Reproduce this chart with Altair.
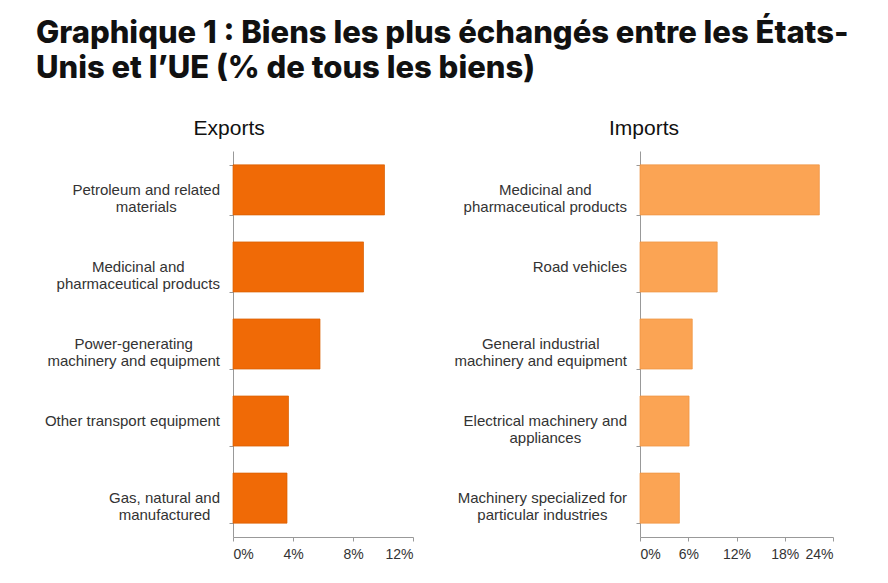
import altair as alt
import pandas as pd

export_labels = [
    "Petroleum and related|materials",
    "Medicinal and|pharmaceutical products",
    "Power-generating|machinery and equipment",
    "Other transport equipment",
    "Gas, natural and|manufactured",
]
export_values = [10.1, 8.7, 5.8, 3.7, 3.6]

import_labels = [
    "Medicinal and|pharmaceutical products",
    "Road vehicles",
    "General industrial|machinery and equipment",
    "Electrical machinery and|appliances",
    "Machinery specialized for|particular industries",
]
import_values = [22.3, 9.6, 6.5, 6.1, 4.9]

FONT = "Liberation Sans"
LABEL_SIZE = 15
LABEL_PAD = 13

# Arial / Liberation Sans advance widths (per 1000 em) used to right-align
# label blocks whose lines are centred, as in the original.
_W = {c: 556 for c in "abdeghnopqu0123456789"}
_W.update({"c": 500, "k": 500, "s": 500, "v": 500, "x": 500, "y": 500, "z": 500,
           "f": 278, "t": 278, "i": 222, "j": 222, "l": 222, "r": 333, "m": 833,
           "w": 722, " ": 278, ",": 278, "-": 333, "E": 667, "G": 778, "M": 833,
           "O": 778, "P": 667, "R": 722, "C": 722})


def text_width(s):
    return sum(_W.get(ch, 556) for ch in s) * LABEL_SIZE / 1000.0


def make_df(labels, values):
    df = pd.DataFrame({"cat": labels, "val": values})
    df["lines"] = [lab.split("|") for lab in labels]
    df["half"] = [max(text_width(l) for l in lab.split("|")) / 2 for lab in labels]
    return df


def panel(labels, values, title, color, stroke, dmax, ticks, width):
    df = make_df(labels, values)
    yenc = alt.Y("cat:N", sort=labels, title=None,
                 scale=alt.Scale(paddingInner=0.35, paddingOuter=0.18),
                 axis=alt.Axis(labels=False, tickBand="extent", tickSize=4,
                               tickColor="#999999", domainColor="#999999",
                               minExtent=0))
    bars = alt.Chart(df).mark_bar(color=color, stroke=stroke, strokeWidth=0.7).encode(
        y=yenc,
        x=alt.X("val:Q", title=None,
                scale=alt.Scale(domain=[0, dmax], nice=False),
                axis=alt.Axis(values=ticks, labelExpr="datum.value + '%'", grid=False,
                              labelFont=FONT, labelFontSize=14, labelColor="#333333",
                              tickSize=4, tickColor="#999999", domainColor="#999999",
                              labelPadding=6)),
    )
    labels_layer = alt.Chart(df).transform_calculate(
        px=f"-({LABEL_PAD} + datum.half)"
    ).mark_text(font=FONT, fontSize=LABEL_SIZE, color="#333333", align="center",
                baseline="middle", lineHeight=17).encode(
        y=yenc,
        x=alt.X("px:Q", scale=alt.Scale(domain=[0, width], range=[0, width], nice=False,
                                        zero=False), axis=None),
        text=alt.Text("lines"),
    )
    return alt.layer(bars, labels_layer).resolve_scale(x="independent").properties(
        width=width, height=386,
        title=alt.TitleParams(title, font=FONT, fontSize=21, fontWeight="normal",
                              color="#111111", anchor="middle", frame="bounds", offset=12),
    )


left = panel(export_labels, export_values, "Exports", "#F06A06", "#D95E00", 12,
             [0, 4, 8, 12], 180)
right = panel(import_labels, import_values, "Imports", "#FBA454", "#EE9440", 24,
              [0, 6, 12, 18, 24], 193)

chart = alt.hconcat(left, right, spacing=40).properties(
    title=alt.TitleParams(
        ["Graphique 1 : Biens les plus échangés entre les États-",
         "Unis et l’UE (% de tous les biens)"],
        font="Inter", fontSize=31, fontWeight=800, color="#111111",
        anchor="start", lineHeight=35, offset=33, dx=-9),
    padding={"left": 35, "top": 18, "right": 10, "bottom": 10},
).configure_view(stroke=None)

chart.save("out.html", embed_options={"renderer": "svg", "actions": False})
